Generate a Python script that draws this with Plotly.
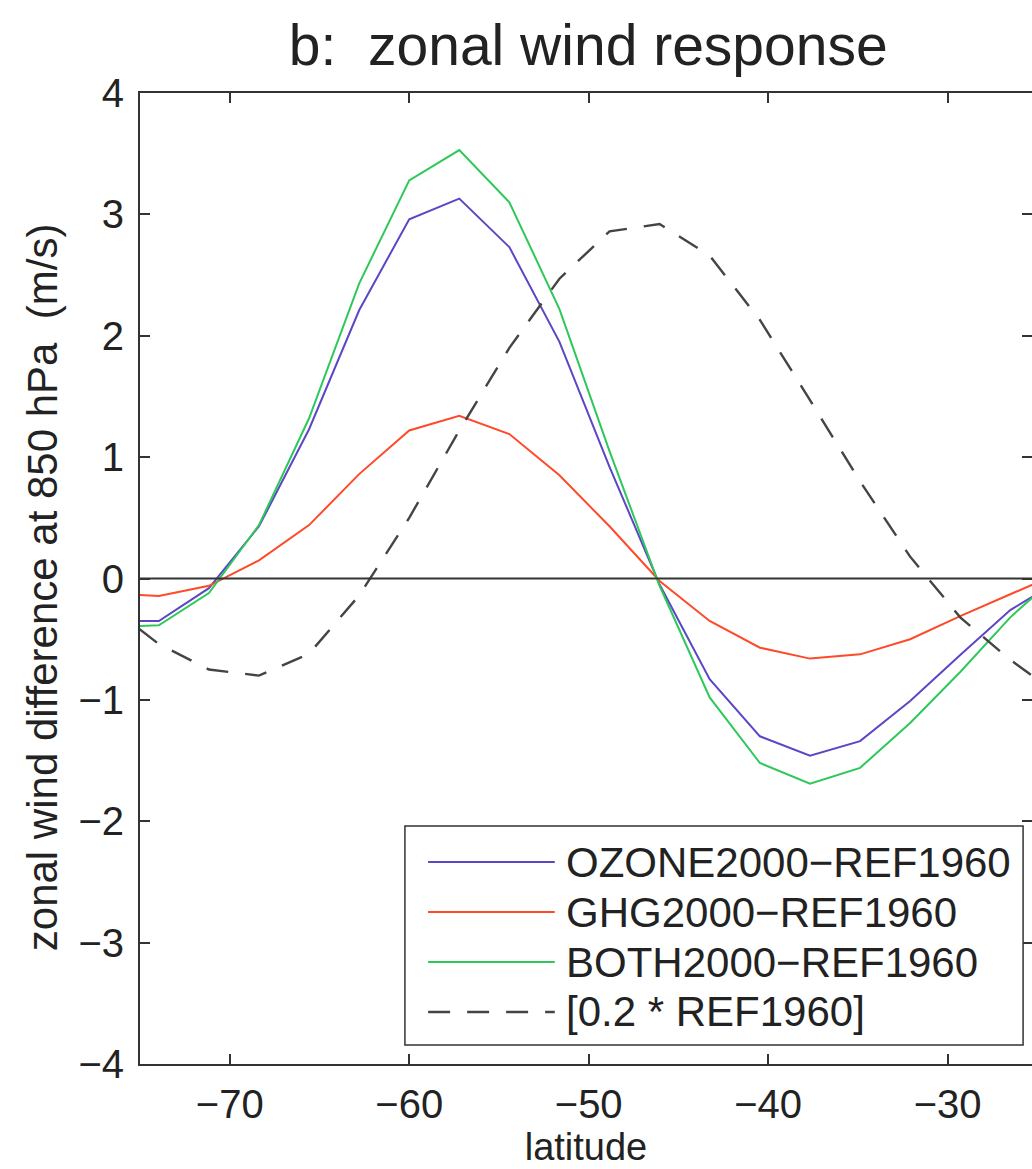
import plotly.graph_objects as go

# ---- data ----
latitude = [-76.74, -73.95, -71.16, -68.37, -65.58, -62.79, -60.00, -57.21, -54.42, -51.63,
            -48.84, -46.05, -43.26, -40.46, -37.67, -34.88, -32.09, -29.30, -26.51, -23.72]
ozone2000 = [-0.35, -0.35, -0.08, 0.43, 1.23, 2.21, 2.96, 3.13, 2.73, 1.95,
             0.92, -0.05, -0.83, -1.30, -1.46, -1.34, -1.01, -0.63, -0.26, -0.01]
ghg2000 = [-0.12, -0.145, -0.06, 0.15, 0.44, 0.86, 1.22, 1.34, 1.19, 0.85,
           0.43, -0.02, -0.35, -0.57, -0.66, -0.625, -0.50, -0.31, -0.13, 0.05]
both2000 = [-0.40, -0.385, -0.12, 0.44, 1.32, 2.43, 3.28, 3.53, 3.10, 2.22,
            1.05, -0.06, -0.98, -1.52, -1.69, -1.56, -1.19, -0.77, -0.32, 0.05]
ref1960_scaled = [-0.22, -0.54, -0.75, -0.80, -0.62, -0.14, 0.50, 1.22, 1.90, 2.47,
                  2.86, 2.92, 2.66, 2.13, 1.47, 0.80, 0.18, -0.32, -0.67, -0.97]

series_names = ["OZONE2000\u2212REF1960", "GHG2000\u2212REF1960",
                "BOTH2000\u2212REF1960", "[0.2 * REF1960]"]
x_ticks = [-70, -60, -50, -40, -30]
x_ticklabels = ["\u221270", "\u221260", "\u221250", "\u221240", "\u221230"]
y_ticks = [-4, -3, -2, -1, 0, 1, 2, 3, 4]
y_ticklabels = ["\u22124", "\u22123", "\u22122", "\u22121", "0", "1", "2", "3", "4"]
y_title = "zonal wind difference at 850 hPa  (m/s)"
x_title = "latitude"
chart_title = "b:  zonal wind response"

# ---- styles ----
colors = ["#5b46c6", "#ff4a2a", "#2ec85a", "#444444"]
dashes = ["solid", "solid", "solid", "22px,17px"]
widths = [2, 2, 2, 2.4]
FONT = "Liberation Sans, Arial, Helvetica, sans-serif"
TXT = "#222222"
AX = "#333333"

fig = go.Figure()
values = [ozone2000, ghg2000, both2000, ref1960_scaled]
axes_for = ["y", "y", "y", "y2"]
for name, vals, c, d, w, ya in zip(series_names, values, colors, dashes, widths, axes_for):
    fig.add_trace(go.Scatter(x=latitude, y=vals, mode="lines", name=name,
                             line=dict(color=c, width=w, dash=d),
                             yaxis=ya, showlegend=False, hoverinfo="skip"))

# zero reference line
fig.add_hline(y=0, line=dict(color=AX, width=2))

# ---- manual legend (long line samples like the original) ----
leg_x0, leg_x1, leg_y0, leg_y1 = 0.297, 0.990, 0.0196, 0.245
fig.add_shape(type="rect", xref="paper", yref="paper", x0=leg_x0, x1=leg_x1,
              y0=leg_y0, y1=leg_y1, line=dict(color=AX, width=1.5),
              fillcolor="white", layer="above")
row_y = [0.208, 0.1565, 0.105, 0.0536]
for name, c, d, w, ry in zip(series_names, colors, dashes, widths, row_y):
    fig.add_shape(type="line", xref="paper", yref="paper", x0=0.323, x1=0.465,
                  y0=ry, y1=ry, line=dict(color=c, width=w, dash=d), layer="above")
    fig.add_annotation(xref="paper", yref="paper", x=0.4755, y=ry, text=name,
                       showarrow=False, xanchor="left", yanchor="middle",
                       font=dict(family=FONT, size=42, color=TXT))

# y-axis title placed like the original
fig.add_annotation(xref="paper", yref="paper", x=-0.1099, y=0.491, text=y_title,
                   textangle=-90, showarrow=False, xanchor="center", yanchor="middle",
                   font=dict(family=FONT, size=42, color=TXT))

fig.update_layout(
    width=1032, height=1169,
    margin=dict(l=140, r=0, t=93, b=105, autoexpand=False),
    paper_bgcolor="white", plot_bgcolor="white",
    title=dict(text=chart_title, x=0.57, xanchor="center",
               y=1 - 45 / 1169, yanchor="middle",
               font=dict(family=FONT, size=57, color=TXT)),
    xaxis=dict(range=[-75, -25.3], tickmode="array", tickvals=x_ticks,
               ticktext=x_ticklabels, ticks="inside", ticklen=10, tickwidth=2,
               tickcolor=AX, showline=True, linecolor=AX, linewidth=2,
               mirror="ticks", showgrid=False, zeroline=False,
               ticklabelstandoff=4,
               tickfont=dict(family=FONT, size=40, color=TXT),
               title=dict(text=x_title, standoff=6,
                          font=dict(family=FONT, size=38, color=TXT))),
    yaxis=dict(range=[-4, 4], tickmode="array", tickvals=y_ticks,
               ticktext=y_ticklabels, ticks="inside", ticklen=10, tickwidth=2,
               tickcolor=AX, showline=True, linecolor=AX, linewidth=2,
               mirror=False, showgrid=False, zeroline=False,
               ticklabelstandoff=6,
               tickfont=dict(family=FONT, size=40, color=TXT)),
    yaxis2=dict(range=[-4, 4], overlaying="y", side="right", anchor="x",
                tickmode="array", tickvals=y_ticks, ticks="inside", ticklen=10,
                tickwidth=2, tickcolor=AX, showticklabels=False, showline=False,
                showgrid=False, zeroline=False),
)

fig.write_html("out.html", config={"displayModeBar": False},
               post_script="document.body.style.margin='0';document.body.style.overflow='hidden';")
